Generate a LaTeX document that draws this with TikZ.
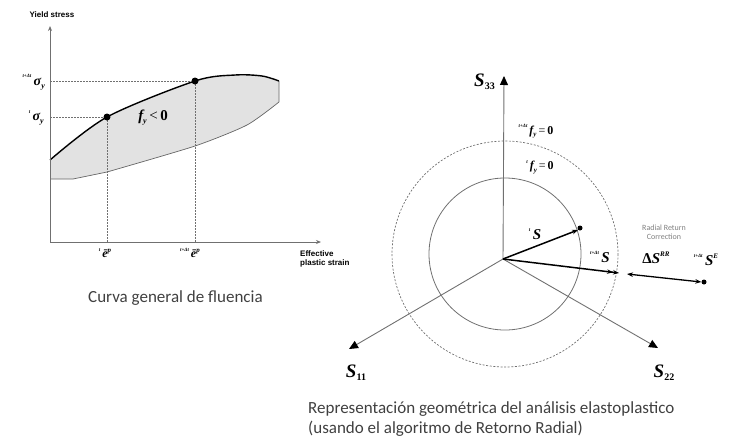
\documentclass[tikz,border=0pt]{standalone}
\usepackage{fontspec}
\setmainfont{Liberation Serif}
\newfontfamily\capfont{Carlito}
\newfontfamily\axfont{Liberation Sans}
\usetikzlibrary{arrows.meta}
\newcommand{\pre}[1]{\raisebox{0.55em}{\fontsize{5}{5}\selectfont\bfseries\itshape #1}\,}
\newcommand{\bi}[1]{{\bfseries\itshape #1}}
\definecolor{axgray}{HTML}{707070}
\definecolor{fillgray}{HTML}{E2E2E2}
\definecolor{capgray}{HTML}{404040}
\begin{document}
\begin{tikzpicture}[x=1pt,y=-1pt,
  axisline/.style={draw=axgray, line width=0.9pt},
  guide/.style={draw=axgray, line width=0.6pt, dash pattern=on 1.5pt off 1.5pt},
  dot/.style={circle, fill=black, inner sep=0pt, minimum size=7pt},
  smalldot/.style={circle, fill=black, inner sep=0pt, minimum size=5pt},
  lbl/.style={inner sep=1pt},
  vec/.style={draw=black, line width=1.5pt, -{Stealth[length=6pt,width=4.5pt]}},
  tri/.style={-{Triangle[length=9pt,width=8pt,color=black]}},
  caption/.style={font=\capfont\fontsize{17}{20}\selectfont, text=capgray, align=left, inner sep=0pt}
]
\useasboundingbox (0,0) rectangle (738,437);

% ---------- left graph ----------
\coordinate (O) at (50,242);
\coordinate (Ytop) at (50,26);
\coordinate (Xend) at (321,242);
\coordinate (P1) at (107,117);
\coordinate (P2) at (195,81);
\coordinate (P1x) at (107,242);
\coordinate (P2x) at (195,242);
\coordinate (P1y) at (50,117);
\coordinate (P2y) at (50,81);

\path[fill=fillgray]
  plot[smooth, tension=0.5] coordinates {(50,160) (107,117) (195,81) (235,75) (262,76) (279,81)}
  -- (279,102)
  -- plot[smooth, tension=0.4] coordinates {(279,102) (247,125) (195,146) (107,172)}
  -- (73,179) -- (50,179) -- cycle;
\draw[draw=black!60, line width=0.7pt]
  (279,81) -- (279,102)
  plot[smooth, tension=0.4] coordinates {(279,102) (247,125) (195,146) (107,172)}
  -- (73,179) -- (50,179);
\draw[black, line width=1.4pt]
  plot[smooth, tension=0.5] coordinates {(50,160) (107,117) (195,81) (235,75) (262,76) (279,81)};

\draw[guide] (P1y) -- (P1);
\draw[guide] (P2y) -- (P2);
\draw[guide] (P1) -- (P1x);
\draw[guide] (P2) -- (P2x);

\draw[axisline, -{Stealth[length=5pt,width=4pt]}] (O) -- (Ytop);
\draw[axisline, -{Stealth[length=5pt,width=4pt]}] (O) -- (Xend);

\node[dot] (d1) at (P1) {};
\node[dot] (d2) at (P2) {};

\node[lbl, font=\axfont\bfseries\fontsize{8}{9}\selectfont] (ylab) at (52,15) {Yield stress};
\node[lbl, font=\fontsize{14}{16}\selectfont, anchor=east] (s2) at (46,82) {\pre{t+Δt}\bi{σ}\raisebox{-0.2em}{\fontsize{8}{8}\selectfont\bi{y}}};
\node[lbl, font=\fontsize{14}{16}\selectfont, anchor=east] (s1) at (45,118) {\pre{t}\bi{σ}\raisebox{-0.2em}{\fontsize{8}{8}\selectfont\bi{y}}};
\node[lbl, font=\fontsize{15}{17}\selectfont] (fneg) at (153,118) {\bi{f}\raisebox{-0.2em}{\fontsize{8}{8}\selectfont\bi{y}}\,<\,\textbf{0}};
\node[lbl, font=\fontsize{12}{14}\selectfont] (e1) at (105,253) {\pre{t}\bi{\=e}\raisebox{0.45em}{\fontsize{7}{7}\selectfont\bi{p}}};
\node[lbl, font=\fontsize{12}{14}\selectfont] (e2) at (190,253) {\pre{t+Δt}\bi{\=e}\raisebox{0.45em}{\fontsize{7}{7}\selectfont\bi{p}}};
\node[lbl, font=\axfont\bfseries\fontsize{8}{9.5}\selectfont, anchor=north west, align=left] (xlab) at (299,249) {Effective\\plastic strain};
\node[caption, anchor=base west] (cap1) at (88,302) {Curva general de fluencia};

% ---------- right diagram ----------
\coordinate (C) at (505,254);
\coordinate (Q) at (503,259);
\coordinate (A33) at (504,76);
\coordinate (A11) at (349,349);
\coordinate (A22) at (658,348);

\draw[draw=axgray, line width=0.8pt] (C) circle[radius=76];
\draw[draw=axgray, line width=0.7pt, dash pattern=on 2pt off 1.6pt] (C) circle[radius=113];

\draw[axisline, tri] (Q) -- (A33);
\draw[axisline, tri] (Q) -- (A11);
\draw[axisline, tri] (Q) -- (A22);

\node[smalldot] (TS) at (580,228) {};
\node[smalldot] (TE) at (704,282) {};
\coordinate (Sret) at (619,273);
\coordinate (Sret2) at (627,274);

\draw[vec] (Q) -- (TS.south west);
\draw[draw=black, line width=1.5pt, -{Stealth[length=6pt,width=4.5pt] Stealth[length=6pt,width=4.5pt]}] (Q) -- (Sret);
\draw[draw=black, line width=1.3pt, {Stealth[length=6pt,width=4.5pt]}-{Stealth[length=6pt,width=4.5pt]}] (Sret2) -- (TE.west);

\node[lbl, font=\fontsize{19}{21}\selectfont, anchor=east] (L33) at (496,82) {\bi{S}\raisebox{-0.15em}{\fontsize{10}{10}\selectfont\bfseries 33}};
\node[lbl, font=\fontsize{19}{21}\selectfont] (L11) at (356,373) {\bi{S}\raisebox{-0.15em}{\fontsize{10}{10}\selectfont\bfseries 11}};
\node[lbl, font=\fontsize{19}{21}\selectfont] (L22) at (664,373) {\bi{S}\raisebox{-0.15em}{\fontsize{10}{10}\selectfont\bfseries 22}};

\node[lbl, font=\fontsize{12}{14}\selectfont] (F2) at (536,131) {\pre{t+Δt}\bi{f}\raisebox{-0.2em}{\fontsize{7}{7}\selectfont\bi{y}}\,=\,\textbf{0}};
\node[lbl, font=\fontsize{12}{14}\selectfont] (F1) at (540,167) {\pre{t}\bi{f}\raisebox{-0.2em}{\fontsize{7}{7}\selectfont\bi{y}}\,=\,\textbf{0}};

\node[lbl, font=\fontsize{15}{17}\selectfont] (LS1) at (535,234) {\pre{t}\bi{S}};
\node[lbl, font=\fontsize{15}{17}\selectfont] (LS2) at (600,257) {\pre{t+Δt}\bi{S}};
\node[lbl, font=\fontsize{15}{17}\selectfont] (LRR) at (656,258) {\textbf{Δ}\bi{S}\raisebox{0.45em}{\fontsize{7}{7}\selectfont\bi{RR}}};
\node[lbl, font=\fontsize{15}{17}\selectfont] (LE) at (706,260) {\pre{t+Δt}\bi{S}\raisebox{0.45em}{\fontsize{7}{7}\selectfont\bi{E}}};

\node[lbl, font=\capfont\fontsize{8}{9.5}\selectfont, text=gray, align=center] (RRC) at (664,232) {Radial Return\\Correction};

\node[caption, anchor=base west] (cap2) at (308,433) {Representación geométrica del análisis elastoplastico\\(usando el algoritmo de Retorno Radial)};
\end{tikzpicture}
\end{document}
